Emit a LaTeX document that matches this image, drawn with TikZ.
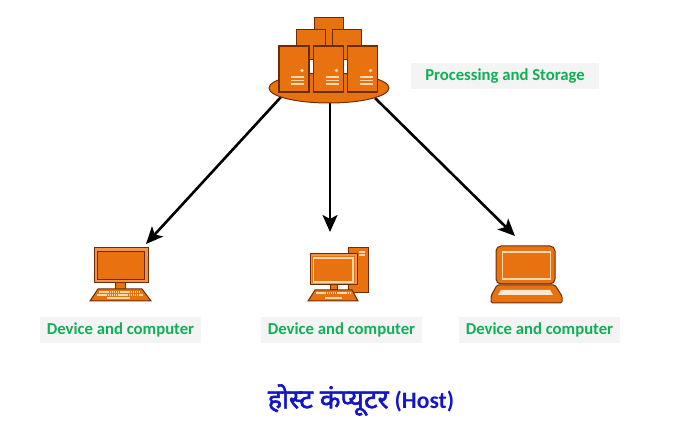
\documentclass[tikz,border=0pt]{standalone}
\usepackage{fontspec}
\setmainfont{Carlito}
\newfontfamily\hindifont[Script=Devanagari,FakeBold=2.2]{Noto Sans}
\usetikzlibrary{arrows.meta}
\usetikzlibrary{shapes.geometric}
\definecolor{boxorange}{HTML}{E8720F}
\definecolor{boxedge}{HTML}{6E2C06}
\definecolor{boxlight}{HTML}{FFD9AE}
\definecolor{labelgray}{HTML}{F3F4F3}
\definecolor{labelgreen}{HTML}{12AE58}
\definecolor{titleblue}{HTML}{1414C8}
\pgfdeclarelayer{edgelayer}
\pgfdeclarelayer{nodelayer}
\pgfsetlayers{edgelayer,nodelayer,main}
\tikzstyle{disc}=[ellipse,fill=boxorange,draw=boxedge,line width=1pt,minimum width=120,minimum height=30,inner sep=0]
\tikzstyle{backbox}=[rectangle,fill=boxorange,draw=boxedge,line width=1pt,minimum width=29,minimum height=30,inner sep=0]
\tikzstyle{server}=[rectangle,fill=boxorange,draw=boxedge,line width=1.2pt,minimum width=30,minimum height=46,inner sep=0]
\tikzstyle{lightline}=[draw=boxlight,line width=1.2pt]
\tikzstyle{keyrow}=[draw=boxlight,line width=1.4pt,dash pattern=on 1.5pt off 0.6pt]
\tikzstyle{body}=[fill=boxorange,draw=boxedge,line width=1pt]
\tikzstyle{tag}=[rectangle,fill=labelgray,text=labelgreen,font=\fontsize{16.7}{18}\selectfont\bfseries,minimum height=26,inner sep=0]
\tikzstyle{wire}=[-{Stealth[length=17pt,width=15pt,inset=4pt]},black,line width=2.6pt]
\begin{document}
\begin{tikzpicture}[x=1pt,y=-1pt]
	\useasboundingbox (0,0) rectangle (675,435);
	\begin{pgfonlayer}{nodelayer}
		\node [style=disc] (disc) at (329,88) {};
		\node [style=backbox] (back0) at (328.5,33) {};
		\node [style=backbox] (back1) at (311,45) {};
		\node [style=backbox] (back2) at (346.5,45) {};
		\node [style=server] (server1) at (294,69) {};
		\node [style=server] (server2) at (328.5,69) {};
		\node [style=server] (server3) at (362.5,69) {};
		\node [style=tag,minimum width=188] (tagstore) at (505,76) {Processing and Storage};
		\node [style=tag,minimum width=161] (tag1) at (120.5,330) {Device and computer};
		\node [style=tag,minimum width=161] (tag2) at (341.5,330) {Device and computer};
		\node [style=tag,minimum width=161] (tag3) at (539.5,330) {Device and computer};
		\node [font=\fontsize{26.8}{30}\selectfont\bfseries,text=titleblue] (title) at (361,400) {{\hindifont होस्ट कंप्यूटर} \fontsize{23.6}{28}\selectfont(Host)};
	\end{pgfonlayer}
	% server fronts
	\foreach \s in {server1,server2,server3} {
		\fill [boxlight] (\s.center) ++(8,1.5) circle (1.8);
		\foreach \dy in {8,11.5,15}
			\draw [style=lightline] (\s.center) ++(-3,\dy) -- ++(13,0);
	}
	% first computer
	\draw [style=body] (115,283) rectangle (125,290);
	\draw [style=body] (98,289) -- (142,289) -- (151,301) -- (90,301) -- cycle;
	\draw [style=keyrow] (99,292) -- (141,292);
	\draw [style=keyrow] (97,295) -- (143,295);
	\draw [draw=boxlight,line width=1.4pt] (107,298) -- (130,298);
	\draw [style=body,fill=boxorange!75!white] (94,248) rectangle (148,283);
	\draw [style=body] (97.5,252) rectangle (144,280);
	% second computer
	\draw [style=body] (348,248) rectangle (368,293);
	\draw [style=lightline] (359,252) -- (365,252);
	\draw [style=lightline] (359,255) -- (365,255);
	\draw [style=body] (330,285) rectangle (337,290);
	\draw [style=body,fill=boxorange!75!white] (310,254) rectangle (357,285);
	\fill [boxorange] (312,256) rectangle (355,283);
	\draw [style=lightline] (313.5,258) rectangle (353,282);
	\draw [style=body] (315,290) -- (352,290) -- (358,301) -- (308,301) -- cycle;
	\draw [style=keyrow] (316,293) -- (351,293);
	\draw [draw=boxlight,line width=1.4pt] (325,298) -- (342,298);
	% laptop
	\draw [style=body,rounded corners=5pt] (496,284) -- (496,246) -- (555,246) -- (555,284) -- cycle;
	\draw [style=lightline] (502.5,252) rectangle (550.5,279);
	\draw [style=body,rounded corners=1.5pt] (497,285) -- (555,285) -- (562,296) -- (562,303) -- (491,303) -- (491,296) -- cycle;
	\fill [boxlight!60!white] (501,290) -- (550,290) -- (553,295) -- (498,295) -- cycle;
	% connectors
	\begin{pgfonlayer}{edgelayer}
		\coordinate (start1) at (281,97);
		\coordinate (start2) at (330,100);
		\coordinate (start3) at (375,98);
		\coordinate (end1) at (146,244);
		\coordinate (end2) at (330,232);
		\coordinate (end3) at (515,236);
		\draw [style=wire] (start1) -- (end1);
		\draw [style=wire] (start2) -- (end2);
		\draw [style=wire] (start3) -- (end3);
	\end{pgfonlayer}
\end{tikzpicture}
\end{document}
